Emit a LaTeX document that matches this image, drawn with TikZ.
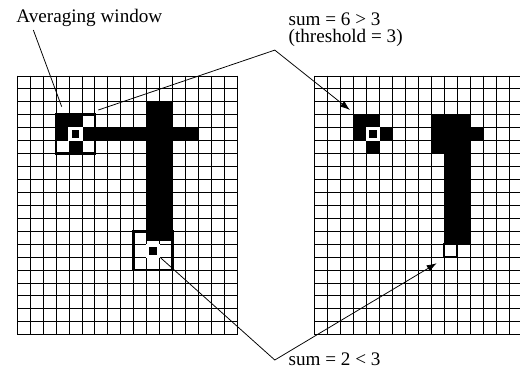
\documentclass[tikz,border=0pt]{standalone}
\usepackage{fontspec}
\setmainfont{Liberation Serif}
\usetikzlibrary{arrows.meta}

\begin{document}
\begin{tikzpicture}[x=6.755pt,y=-6.755pt,
  gridline/.style={line width=0.5pt,line cap=rect},
  winframe/.style={line width=1.4pt},
  pointer/.style={line width=0.4pt},
  caption/.style={font=\fontsize{10}{12}\selectfont,inner sep=0pt,anchor=base west}]
\useasboundingbox (-1.337,-5.873) rectangle (38.85,22.95);

% Left grid (input)
\foreach \i in {0,...,17} \draw[gridline] (\i,0) -- (\i,20);
\foreach \j in {0,...,20} \draw[gridline] (0,\j) -- (17,\j);

% Right grid (output)
\foreach \i in {23,...,40} \draw[gridline] (\i,0) -- (\i,20);
\foreach \j in {0,...,20} \draw[gridline] (23,\j) -- (40,\j);

% Input character
\fill (10,2) rectangle (12,12.75);
\fill (3,3) rectangle (5,4);
\fill (3,4) rectangle (14,5);
\fill (4,5) rectangle (5,6);

% Output character
\fill (26,3) rectangle (28,4);
\fill (26,4) rectangle (29,5);
\fill (27,5) rectangle (28,6);
\fill (32,3) rectangle (35,6);
\fill (35,4) rectangle (36,5);
\fill (33,6) rectangle (35,13);

% Window centres
\foreach \c/\r in {4/4, 10/13, 27/4} {
  \fill[white] (\c-0.05,\r-0.05) rectangle (\c+1.05,\r+1.05);
  \fill (\c+0.2,\r+0.2) rectangle (\c+0.8,\r+0.8);
}

% Averaging windows
\draw[winframe] (3,3) rectangle (6,6);
\draw[winframe] (9,12) rectangle (12,15);

% Cleared output pixel
\draw[line width=1.1pt] (33,13) rectangle (34,14);

% Labels
\node[caption] (avg) at (-0.1,-4.12) {Averaging window};
\node[caption] (sumhi) at (20.94,-3.94) {sum = 6 > 3};
\node[caption] (thr) at (20.94,-2.59) {(threshold = 3)};
\node[caption] (sumlo) at (20.94,22.41) {sum = 2 < 3};

% Pointers
\coordinate (avgfrom) at (1.24,-3.55);
\coordinate (avgto) at (3.43,2.37);
\coordinate (hifrom) at (6.26,2.63);
\coordinate (hibend) at (19.9,-2.0);
\coordinate (hito) at (25.71,2.63);
\coordinate (lofrom) at (11.03,14.01);
\coordinate (lobend) at (19.9,21.95);
\coordinate (loto) at (32.41,14.47);

\draw[pointer] (avgfrom) -- (avgto);
\draw[pointer,-{Latex[length=5.2pt,width=3.6pt]}] (hifrom) -- (hibend) -- (hito);
\draw[pointer,-{Latex[length=5.2pt,width=3.6pt]}] (lofrom) -- (lobend) -- (loto);
\end{tikzpicture}
\end{document}
